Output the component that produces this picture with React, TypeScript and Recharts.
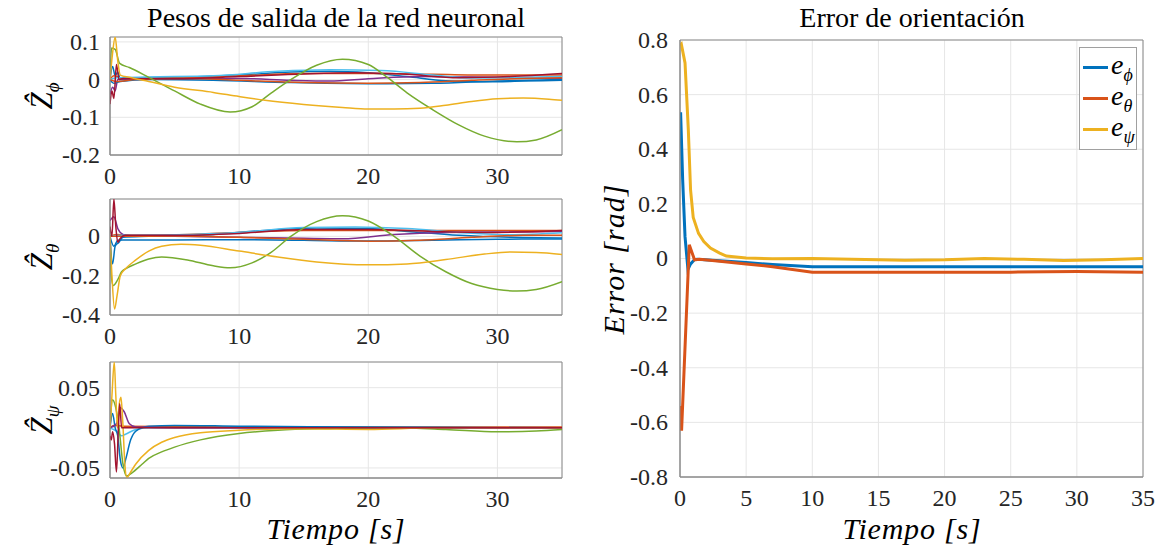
import React from "react";
import { LineChart, Line, XAxis, YAxis, CartesianGrid, ReferenceArea, Legend } from "recharts";

type Pt = [number, number];

const BLUE = "#0072BD";
const ORANGE = "#D95319";
const YELLOW = "#EDB120";
const PURPLE = "#7E2F8E";
const GREEN = "#77AC30";
const LIGHTBLUE = "#4DBEEE";
const DARKRED = "#A2142F";

const SERIF = '"Liberation Serif", "Times New Roman", serif';

// ---- Z_phi weights ----
const zPhiGreen: Pt[] = [[0, 0], [0.12, 0.084], [0.4, 0.08], [0.75, 0.043], [1.5, 0.032], [3, 0.006], [5, -0.03], [7, -0.065], [9.3, -0.086], [11, -0.072], [12.5, -0.035], [14, 0], [16, 0.038], [18, 0.054], [20, 0.04], [21.5, 0.005], [23, -0.035], [25, -0.08], [27, -0.12], [29, -0.15], [31.5, -0.165], [33, -0.16], [35, -0.133]];
const zPhiYellow: Pt[] = [[0, 0], [0.2, 0.07], [0.4, 0.113], [0.6, 0.05], [0.8, 0.012], [1.5, 0.006], [3, -0.005], [5, -0.02], [8, -0.034], [10, -0.045], [12, -0.055], [15, -0.066], [18, -0.074], [20, -0.078], [22, -0.078], [24, -0.076], [26, -0.068], [28, -0.058], [30, -0.051], [32, -0.049], [34, -0.052], [35, -0.055]];
const zPhiBlue1: Pt[] = [[0, 0], [0.2, 0.035], [0.4, 0.01], [0.6, 0.02], [0.8, 0.002], [2, 0.005], [5, 0.006], [10, 0.012], [14, 0.02], [17, 0.022], [20, 0.018], [23, 0.008], [26, -0.003], [29, -0.006], [32, -0.004], [35, -0.002]];
const zPhiBlue2: Pt[] = [[0, 0], [0.3, -0.01], [0.8, -0.005], [3, 0], [8, -0.002], [14, -0.008], [20, -0.011], [25, -0.01], [30, -0.004], [35, 0]];
const zPhiLightBlue: Pt[] = [[0, 0], [0.5, 0.005], [3, 0.007], [8, 0.01], [13, 0.022], [17, 0.026], [21, 0.024], [25, 0.012], [28, 0.004], [32, 0.006], [35, 0.008]];
const zPhiDarkRed: Pt[] = [[0, -0.065], [0.15, -0.03], [0.3, -0.05], [0.5, 0.04], [0.7, 0], [1, 0.003], [5, 0.002], [10, 0.008], [15, 0.015], [19, 0.018], [23, 0.014], [27, 0.005], [31, 0.008], [35, 0.016]];
const zPhiOrange1: Pt[] = [[0, 0], [0.3, 0.01], [1, 0.003], [5, 0.004], [10, 0.01], [15, 0.016], [20, 0.016], [25, 0.014], [30, 0.012], [35, 0.012]];
const zPhiOrange2: Pt[] = [[0, 0], [0.5, -0.005], [2, 0], [6, 0.003], [10, -0.002], [15, -0.008], [20, -0.01], [24, -0.008], [28, -0.002], [32, 0.003], [35, 0.005]];
const zPhiPurple: Pt[] = [[0, -0.04], [0.2, -0.02], [0.4, -0.03], [0.6, 0], [1, 0], [5, 0.002], [10, 0.003], [14, -0.002], [17, -0.004], [20, 0.002], [24, 0.008], [28, 0.007], [32, 0.004], [35, 0.003]];

// ---- Z_theta weights ----
const zThYellow: Pt[] = [[0, 0], [0.15, -0.2], [0.35, -0.37], [0.55, -0.3], [0.8, -0.2], [1.2, -0.165], [2, -0.12], [3, -0.075], [4, -0.05], [5.5, -0.04], [7, -0.045], [10, -0.075], [13, -0.105], [16, -0.13], [20, -0.145], [23, -0.14], [26, -0.118], [29, -0.09], [31, -0.08], [33, -0.082], [35, -0.092]];
const zThGreen: Pt[] = [[0, 0], [0.1, -0.2], [0.25, -0.25], [0.6, -0.22], [0.9, -0.18], [1.2, -0.165], [2, -0.14], [3, -0.115], [4, -0.105], [6, -0.12], [8, -0.15], [9.3, -0.16], [11, -0.135], [12.5, -0.08], [14, 0], [16, 0.075], [18, 0.105], [20, 0.078], [22, 0], [24, -0.1], [26, -0.18], [28, -0.24], [30, -0.27], [31.5, -0.278], [33, -0.27], [35, -0.23]];
const zThBlue1: Pt[] = [[0, 0], [0.2, -0.14], [0.4, -0.05], [0.7, -0.03], [1, -0.005], [3, 0], [8, 0.01], [12, 0.03], [16, 0.042], [20, 0.04], [23, 0.025], [27, 0.005], [31, -0.005], [35, -0.008]];
const zThBlue2: Pt[] = [[0, 0], [0.3, -0.05], [0.6, -0.02], [1, -0.018], [5, -0.018], [10, -0.017], [15, -0.02], [20, -0.024], [25, -0.02], [30, -0.015], [35, -0.013]];
const zThLightBlue: Pt[] = [[0, 0], [1, 0.005], [5, 0.008], [10, 0.02], [15, 0.045], [19, 0.048], [23, 0.04], [27, 0.02], [31, 0.008], [35, 0.018]];
const zThDarkRed: Pt[] = [[0, 0.05], [0.15, 0], [0.3, 0.19], [0.45, 0.05], [0.6, -0.03], [0.8, -0.01], [1.2, 0.005], [5, 0.005], [10, 0.015], [15, 0.035], [20, 0.035], [25, 0.025], [30, 0.02], [35, 0.03]];
const zThOrange1: Pt[] = [[0, 0], [0.5, 0.01], [2, 0.005], [6, 0.01], [10, 0.02], [15, 0.03], [20, 0.03], [25, 0.03], [30, 0.03], [35, 0.03]];
const zThOrange2: Pt[] = [[0, 0], [1, 0], [5, 0.002], [10, -0.005], [15, -0.015], [20, -0.025], [24, -0.02], [28, -0.005], [32, 0.005], [35, 0.005]];
const zThPurple: Pt[] = [[0, 0.08], [0.3, 0.1], [0.6, 0.04], [1, 0.01], [1.5, 0.003], [5, 0], [10, -0.005], [15, -0.01], [18, -0.012], [22, 0.01], [26, 0.02], [30, 0.022], [35, 0.025]];

// ---- Z_psi weights ----
const zPsYellow: Pt[] = [[0, 0], [0.15, 0.04], [0.33, 0.082], [0.45, 0.04], [0.58, 0], [0.72, 0.03], [0.85, 0.038], [0.98, 0.01], [1.15, -0.045], [1.3, -0.062], [1.6, -0.055], [2, -0.045], [3, -0.028], [4, -0.018], [5, -0.012], [7, -0.006], [10, -0.003], [15, -0.001], [20, -0.002], [25, 0], [30, 0], [35, 0]];
const zPsGreen: Pt[] = [[0, 0], [0.2, 0.035], [0.4, 0.028], [0.7, 0], [1, -0.045], [1.3, -0.06], [1.7, -0.056], [2.5, -0.045], [3, -0.038], [4, -0.03], [5, -0.024], [7, -0.015], [10, -0.007], [13, -0.003], [17, -0.001], [22, 0], [26, -0.002], [30, -0.005], [33, -0.004], [35, -0.002]];
const zPsBlue: Pt[] = [[0, 0], [0.2, 0.018], [0.4, 0], [0.6, -0.01], [0.8, -0.04], [1, -0.05], [1.2, -0.04], [1.6, -0.015], [2, -0.004], [3, 0.002], [5, 0.003], [10, 0.002], [20, 0.001], [35, 0]];
const zPsLightBlue: Pt[] = [[0, 0], [0.5, -0.004], [0.9, -0.01], [1.2, -0.008], [2, -0.002], [3, 0], [35, 0]];
const zPsPurple: Pt[] = [[0, 0], [0.5, 0.005], [0.8, 0.025], [1.1, 0.02], [1.5, 0.005], [2, 0.001], [5, 0], [35, 0]];
const zPsDarkRed: Pt[] = [[0, -0.01], [0.1, -0.015], [0.2, -0.005], [0.35, -0.02], [0.5, -0.055], [0.65, 0], [0.75, 0.03], [0.9, 0], [1.2, 0], [35, 0]];
const zPsOrange: Pt[] = [[0, 0], [0.3, 0.003], [1, 0.002], [10, 0.001], [35, 0.001]];

// ---- orientation error ----
const ePhi: Pt[] = [[0, 0.53], [0.05, 0.53], [0.2, 0.29], [0.38, 0.08], [0.6, -0.04], [0.8, -0.02], [1.1, -0.004], [1.3, -0.003], [3, -0.008], [5, -0.015], [7, -0.022], [10, -0.03], [15, -0.03], [20, -0.03], [25, -0.03], [30, -0.03], [35, -0.03]];
const eTheta: Pt[] = [[0, -0.54], [0.12, -0.63], [0.7, 0.05], [1.1, -0.005], [1.5, -0.003], [3, -0.01], [5, -0.02], [7, -0.03], [10, -0.05], [15, -0.05], [20, -0.05], [25, -0.05], [30, -0.048], [35, -0.05]];
const ePsi: Pt[] = [[0, 0.78], [0.1, 0.785], [0.38, 0.716], [0.63, 0.47], [0.8, 0.25], [1, 0.15], [1.4, 0.092], [1.8, 0.062], [2.3, 0.038], [3, 0.02], [3.5, 0.009], [5, 0.002], [7, -0.001], [10, 0], [13, -0.003], [17, -0.006], [20, -0.005], [23, 0], [26, -0.003], [29, -0.007], [32, -0.005], [35, 0]];

const leftTicksX = [0, 10, 20, 30];
const rightTicksX = [0, 5, 10, 15, 20, 25, 30, 35];
const zPhiTicks = [-0.2, -0.1, 0, 0.1];
const zThTicks = [-0.4, -0.2, 0];
const zPsTicks = [-0.05, 0, 0.05];
const errTicks = [-0.8, -0.6, -0.4, -0.2, 0, 0.2, 0.4, 0.6, 0.8];

const toData = (pts: Pt[]) => pts.map(([t, v]) => ({ t, v }));

type S = { pts: Pt[]; color: string };

const phiSeries: S[] = [
  { pts: zPhiBlue1, color: BLUE },
  { pts: zPhiOrange1, color: ORANGE },
  { pts: zPhiPurple, color: PURPLE },
  { pts: zPhiLightBlue, color: LIGHTBLUE },
  { pts: zPhiBlue2, color: BLUE },
  { pts: zPhiOrange2, color: ORANGE },
  { pts: zPhiDarkRed, color: DARKRED },
  { pts: zPhiGreen, color: GREEN },
  { pts: zPhiYellow, color: YELLOW },
];
const thSeries: S[] = [
  { pts: zThBlue1, color: BLUE },
  { pts: zThOrange1, color: ORANGE },
  { pts: zThPurple, color: PURPLE },
  { pts: zThLightBlue, color: LIGHTBLUE },
  { pts: zThBlue2, color: BLUE },
  { pts: zThOrange2, color: ORANGE },
  { pts: zThDarkRed, color: DARKRED },
  { pts: zThGreen, color: GREEN },
  { pts: zThYellow, color: YELLOW },
];
const psSeries: S[] = [
  { pts: zPsOrange, color: ORANGE },
  { pts: zPsLightBlue, color: LIGHTBLUE },
  { pts: zPsBlue, color: BLUE },
  { pts: zPsPurple, color: PURPLE },
  { pts: zPsGreen, color: GREEN },
  { pts: zPsYellow, color: YELLOW },
  { pts: zPsDarkRed, color: DARKRED },
];

const errSeries = [
  { pts: ePhi, color: BLUE, sub: "ϕ" },
  { pts: eTheta, color: ORANGE, sub: "θ" },
  { pts: ePsi, color: YELLOW, sub: "ψ" },
];

const GRID = "#e6e6e6";
const BOX = "#8a8a8a";
const TICK_FONT = 24;

// MATLAB-like tick labels, drawn as plain svg text so the serif font sticks
const XTick = (p: any) => (
  <text x={p.x} y={p.y} dy="0.71em" textAnchor="middle" fontFamily={SERIF} fontSize={TICK_FONT} fill="#262626">
    {String(p.payload.value)}
  </text>
);
const YTick = (p: any) => (
  <text x={p.x} y={p.y} dy="0.33em" textAnchor="end" fontFamily={SERIF} fontSize={TICK_FONT} fill="#262626">
    {String(p.payload.value)}
  </text>
);

function WeightPanel({ top, marginTop, height, series, domain, ticks }: { top: number; marginTop: number; height: number; series: S[]; domain: [number, number]; ticks: number[] }) {
  return (
    <div style={{ position: "absolute", left: 0, top }}>
      <LineChart width={580} height={height} margin={{ top: marginTop, right: 18, left: 0, bottom: 0 }}>
        <CartesianGrid stroke={GRID} />
        <XAxis dataKey="t" type="number" domain={[0, 35]} ticks={leftTicksX} allowDataOverflow height={40} tickSize={0} tickMargin={12} tickLine={false} axisLine={{ stroke: BOX }} tick={XTick} />
        <YAxis type="number" domain={domain} ticks={ticks} allowDataOverflow width={110} tickSize={0} tickMargin={10} tickLine={false} axisLine={{ stroke: BOX }} tick={YTick} />
        {series.map((s, i) => (
          <Line key={i} data={toData(s.pts)} dataKey="v" type="monotone" dot={false} stroke={s.color} strokeWidth={1.5} isAnimationActive={false} />
        ))}
        <ReferenceArea x1={0} x2={35} y1={domain[0]} y2={domain[1]} fill="none" stroke={BOX} strokeOpacity={1} />
      </LineChart>
    </div>
  );
}

function ErrLegend() {
  return (
    <div style={{ border: "1px solid #a0a0a0", background: "#fff", width: 58, padding: "4px 0", boxSizing: "border-box" }}>
      {errSeries.map((s) => (
        <div key={s.sub} style={{ display: "flex", alignItems: "center", height: 31 }}>
          <div style={{ width: 25, height: 3, background: s.color, marginLeft: 3, marginRight: 3 }} />
          <span style={{ fontFamily: SERIF, fontStyle: "italic", fontSize: 28, color: "#000", lineHeight: 1 }}>
            e<sub style={{ fontSize: 18 }}>{s.sub}</sub>
          </span>
        </div>
      ))}
    </div>
  );
}

function ZLabel({ sub, cy }: { sub: string; cy: number }) {
  return (
    <div style={{ position: "absolute", left: 44, top: cy, transform: "translate(-50%, -50%) rotate(-90deg)", fontFamily: SERIF, fontSize: 31, lineHeight: 1, whiteSpace: "nowrap", color: "#000" }}>
      <span style={{ fontStyle: "italic" }}>{"Z\u0302"}</span>
      <sub style={{ fontSize: 19, fontStyle: "italic" }}>{sub}</sub>
    </div>
  );
}

const textBase: React.CSSProperties = { position: "absolute", fontFamily: SERIF, color: "#000", whiteSpace: "nowrap", lineHeight: 1, transform: "translate(-50%, -50%)" };

export default function App() {
  return (
    <div style={{ position: "absolute", left: 0, top: 0, width: 1162, height: 548, background: "#fff", overflow: "hidden", fontFamily: SERIF }}>
      <WeightPanel top={0} marginTop={37} height={195} series={phiSeries} domain={[-0.2, 0.113]} ticks={zPhiTicks} />
      <WeightPanel top={160} marginTop={39} height={195} series={thSeries} domain={[-0.4, 0.19]} ticks={zThTicks} />
      <WeightPanel top={320} marginTop={42} height={198} series={psSeries} domain={[-0.0625, 0.082]} ticks={zPsTicks} />

      <div style={{ position: "absolute", left: 580, top: 0 }}>
        <LineChart width={582} height={517} margin={{ top: 40, right: 19, left: 0, bottom: 0 }}>
          <CartesianGrid stroke={GRID} />
          <XAxis dataKey="t" type="number" domain={[0, 35]} ticks={rightTicksX} allowDataOverflow height={40} tickSize={0} tickMargin={12} tickLine={false} axisLine={{ stroke: BOX }} tick={XTick} />
          <YAxis type="number" domain={[-0.8, 0.8]} ticks={errTicks} allowDataOverflow width={100} tickSize={0} tickMargin={12} tickLine={false} axisLine={{ stroke: BOX }} tick={YTick} />
          {errSeries.map((s) => (
            <Line key={s.sub} data={toData(s.pts)} dataKey="v" type="linear" dot={false} stroke={s.color} strokeWidth={3} isAnimationActive={false} />
          ))}
          <ReferenceArea x1={0} x2={35} y1={-0.8} y2={0.8} fill="none" stroke={BOX} strokeOpacity={1} />
          <Legend layout="vertical" align="center" verticalAlign="middle" content={() => <ErrLegend />} wrapperStyle={{ position: "absolute", left: 499, top: 47, width: 58 }} />
        </LineChart>
      </div>

      <div style={{ ...textBase, left: 336, top: 18, fontSize: 28 }}>Pesos de salida de la red neuronal</div>
      <div style={{ ...textBase, left: 912, top: 18, fontSize: 28 }}>Error de orientación</div>
      <div style={{ ...textBase, left: 336, top: 529, fontSize: 30, fontStyle: "italic", letterSpacing: 0.8 }}>Tiempo [s]</div>
      <div style={{ ...textBase, left: 912, top: 529, fontSize: 30, fontStyle: "italic", letterSpacing: 0.8 }}>Tiempo [s]</div>
      <div style={{ ...textBase, left: 614, top: 259, fontSize: 30, fontStyle: "italic", letterSpacing: 1, transform: "translate(-50%, -50%) rotate(-90deg)" }}>Error [rad]</div>

      <ZLabel sub="ϕ" cy={96} />
      <ZLabel sub="θ" cy={257} />
      <ZLabel sub="ψ" cy={420} />
    </div>
  );
}
